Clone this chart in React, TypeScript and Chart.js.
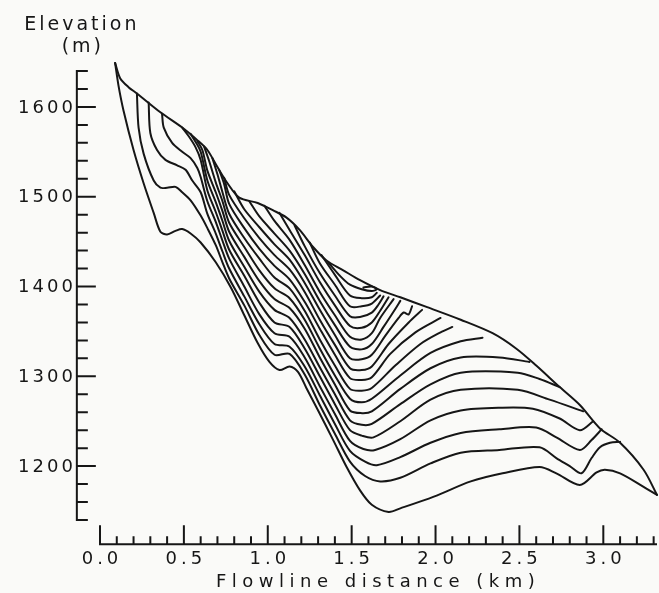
import { useEffect, useRef } from 'react';
import Chart from 'chart.js/auto';

type Pt = [number, number];

// Flowline distance (km), elevation (m)
const SURFACE: Pt[] = [[0.09,1649],[0.12,1632],[0.17,1622],[0.22,1615],[0.36,1594],[0.49,1577],[0.58,1563],[0.64,1552],[0.70,1533],[0.76,1515],[0.83,1499],[0.94,1493],[1.03,1485],[1.11,1477],[1.19,1463],[1.27,1444],[1.35,1429],[1.45,1418],[1.55,1407],[1.67,1396],[1.79,1388],[1.95,1377],[2.15,1363],[2.34,1348],[2.48,1331],[2.60,1312],[2.74,1288],[2.86,1268],[2.98,1242],[3.10,1226],[3.24,1196],[3.32,1168]];
const BED: Pt[] = [[0.09,1649],[0.11,1624],[0.14,1596],[0.20,1552],[0.26,1515],[0.32,1482],[0.36,1461],[0.40,1458],[0.45,1462],[0.49,1464],[0.54,1459],[0.60,1449],[0.69,1427],[0.78,1399],[0.86,1368],[0.94,1337],[1.01,1316],[1.07,1307],[1.13,1311],[1.18,1305],[1.23,1287],[1.30,1262],[1.39,1229],[1.47,1199],[1.55,1173],[1.62,1157],[1.72,1149],[1.79,1153],[1.99,1166],[2.21,1183],[2.40,1192],[2.62,1199],[2.72,1192],[2.86,1179],[2.96,1193],[3.01,1196],[3.10,1192],[3.24,1177],[3.32,1168]];

const LAYER_01: Pt[] = [[0.22,1615],[0.23,1577],[0.26,1548],[0.32,1518],[0.36,1510],[0.40,1510],[0.45,1511],[0.49,1505],[0.54,1496],[0.60,1479],[0.64,1465],[0.69,1446],[0.73,1427],[0.77,1409],[0.86,1379],[0.95,1346],[1.04,1324],[1.13,1325],[1.22,1302],[1.31,1268],[1.40,1236],[1.49,1205],[1.58,1189],[1.67,1183],[1.79,1187],[1.97,1203],[2.15,1215],[2.38,1218],[2.62,1221],[2.72,1209],[2.80,1200],[2.87,1192],[2.93,1209],[2.98,1221],[3.04,1226],[3.10,1227]];
const LAYER_02: Pt[] = [[0.29,1605],[0.30,1571],[0.34,1552],[0.39,1541],[0.46,1535],[0.51,1530],[0.55,1518],[0.60,1505],[0.64,1481],[0.69,1459],[0.73,1439],[0.77,1420],[0.86,1389],[0.95,1358],[1.04,1336],[1.13,1333],[1.22,1311],[1.31,1279],[1.40,1247],[1.49,1217],[1.58,1205],[1.65,1201],[1.79,1210],[1.97,1226],[2.15,1237],[2.38,1241],[2.60,1243],[2.72,1232],[2.86,1218],[2.93,1229],[2.99,1241]];
const LAYER_03: Pt[] = [[0.37,1592],[0.38,1577],[0.43,1560],[0.49,1550],[0.54,1543],[0.58,1532],[0.60,1522],[0.64,1495],[0.69,1472],[0.73,1451],[0.77,1431],[0.86,1400],[0.95,1369],[1.04,1348],[1.13,1344],[1.22,1321],[1.31,1289],[1.40,1258],[1.49,1228],[1.57,1219],[1.64,1218],[1.79,1230],[1.97,1251],[2.15,1262],[2.38,1265],[2.58,1264],[2.74,1253],[2.86,1240],[2.94,1250]];
const LAYER_04: Pt[] = [[0.49,1577],[0.53,1567],[0.57,1555],[0.60,1541],[0.64,1507],[0.69,1483],[0.73,1462],[0.77,1441],[0.86,1412],[0.95,1382],[1.04,1360],[1.13,1355],[1.22,1331],[1.31,1300],[1.40,1269],[1.49,1240],[1.56,1234],[1.63,1232],[1.79,1250],[1.97,1274],[2.15,1285],[2.49,1285],[2.68,1274],[2.88,1261]];
const LAYER_05: Pt[] = [[0.54,1570],[0.57,1561],[0.60,1550],[0.64,1518],[0.69,1494],[0.73,1473],[0.77,1451],[0.86,1422],[0.95,1394],[1.04,1374],[1.13,1365],[1.22,1341],[1.31,1310],[1.40,1280],[1.49,1251],[1.56,1246],[1.62,1247],[1.79,1269],[1.97,1291],[2.15,1304],[2.49,1304],[2.62,1297],[2.74,1288]];
const LAYER_06: Pt[] = [[0.58,1562],[0.61,1552],[0.64,1529],[0.69,1505],[0.73,1484],[0.77,1461],[0.86,1433],[0.95,1406],[1.04,1386],[1.13,1376],[1.22,1353],[1.31,1321],[1.40,1291],[1.49,1262],[1.56,1259],[1.62,1261],[1.79,1286],[1.97,1309],[2.15,1321],[2.38,1321],[2.56,1316]];
const LAYER_07: Pt[] = [[0.62,1556],[0.65,1540],[0.69,1516],[0.73,1495],[0.77,1471],[0.86,1444],[0.95,1418],[1.04,1398],[1.13,1387],[1.22,1363],[1.31,1331],[1.40,1301],[1.49,1275],[1.56,1271],[1.62,1275],[1.79,1301],[1.97,1326],[2.15,1339],[2.28,1343]];
const LAYER_08: Pt[] = [[0.67,1543],[0.70,1525],[0.73,1505],[0.77,1481],[0.86,1454],[0.95,1431],[1.04,1410],[1.13,1398],[1.22,1373],[1.31,1341],[1.40,1312],[1.49,1286],[1.56,1284],[1.62,1287],[1.76,1312],[1.91,1336],[2.03,1349],[2.10,1355]];
const LAYER_09: Pt[] = [[0.71,1530],[0.74,1514],[0.77,1492],[0.86,1465],[0.95,1442],[1.04,1423],[1.13,1408],[1.22,1383],[1.31,1353],[1.40,1324],[1.49,1298],[1.56,1296],[1.62,1299],[1.73,1325],[1.88,1349],[2.03,1365]];
const LAYER_10: Pt[] = [[0.74,1521],[0.77,1502],[0.86,1476],[0.95,1454],[1.04,1435],[1.13,1419],[1.22,1394],[1.31,1363],[1.40,1335],[1.49,1309],[1.56,1307],[1.62,1311],[1.72,1336],[1.84,1360],[1.92,1374]];
const LAYER_11: Pt[] = [[0.80,1506],[0.86,1486],[0.95,1466],[1.04,1447],[1.13,1430],[1.22,1404],[1.31,1374],[1.40,1346],[1.49,1320],[1.56,1319],[1.62,1324],[1.70,1345],[1.78,1365],[1.81,1371],[1.84,1369],[1.86,1378]];
const LAYER_12: Pt[] = [[0.89,1495],[0.95,1478],[1.04,1459],[1.13,1440],[1.22,1414],[1.31,1384],[1.40,1357],[1.49,1333],[1.56,1330],[1.62,1336],[1.69,1355],[1.76,1375],[1.79,1384]];
const LAYER_13: Pt[] = [[0.98,1490],[1.04,1473],[1.13,1452],[1.22,1424],[1.31,1394],[1.40,1368],[1.49,1344],[1.56,1341],[1.62,1348],[1.67,1365],[1.75,1386]];
const LAYER_14: Pt[] = [[1.07,1482],[1.13,1463],[1.22,1435],[1.31,1405],[1.40,1379],[1.49,1356],[1.56,1354],[1.62,1360],[1.67,1373],[1.72,1388]];
const LAYER_15: Pt[] = [[1.16,1468],[1.22,1445],[1.31,1415],[1.40,1390],[1.49,1367],[1.55,1366],[1.62,1371],[1.66,1380],[1.69,1389]];
const LAYER_16: Pt[] = [[1.25,1449],[1.31,1426],[1.40,1402],[1.49,1378],[1.56,1378],[1.62,1381],[1.67,1390]];
const LAYER_17: Pt[] = [[1.32,1435],[1.40,1413],[1.49,1390],[1.56,1387],[1.62,1388],[1.65,1393]];
const LAYER_18: Pt[] = [[1.36,1427],[1.43,1412],[1.49,1402],[1.56,1397],[1.62,1395],[1.65,1397],[1.62,1400],[1.57,1399]];

const LAYERS: Pt[][] = [LAYER_01, LAYER_02, LAYER_03, LAYER_04, LAYER_05, LAYER_06, LAYER_07, LAYER_08, LAYER_09, LAYER_10, LAYER_11, LAYER_12, LAYER_13, LAYER_14, LAYER_15, LAYER_16, LAYER_17, LAYER_18];

const X_MIN = 0;
const X_MAX = 3.32;
const Y_MIN = 1140;
const Y_MAX = 1640;
const Y_TICK_STEP = 20;
const Y_LABELS = [1200, 1300, 1400, 1500, 1600];
const X_TICK_COUNT = 33; // ticks every 0.1 km from 0.0 to 3.3
const X_LABELS = ['0.0', '0.5', '1.0', '1.5', '2.0', '2.5', '3.0'];
const Y_AXIS_AT_KM = -0.138;
const X_AXIS_AT_M = 1113;

const INK = '#161616';
const FONT = '"DejaVu Sans", sans-serif';

const axesPlugin = {
  id: 'glacierAxes',
  afterDraw(chart: any) {
    const { ctx, scales } = chart;
    const xs = scales.x;
    const ys = scales.y;
    ctx.save();
    ctx.strokeStyle = INK;
    ctx.fillStyle = INK;
    ctx.lineWidth = 2;
    ctx.lineCap = 'butt';

    // y axis
    const ax = xs.getPixelForValue(Y_AXIS_AT_KM);
    const yTop = ys.getPixelForValue(Y_MAX);
    const yBot = ys.getPixelForValue(Y_MIN);
    ctx.beginPath();
    ctx.moveTo(ax, yTop - 1);
    ctx.lineTo(ax, yBot + 1);
    for (let v = Y_MIN; v <= Y_MAX; v += Y_TICK_STEP) {
      const py = ys.getPixelForValue(v);
      const major = v % 100 === 0;
      ctx.moveTo(ax, py);
      ctx.lineTo(ax + (major ? 19 : 11), py);
    }
    ctx.stroke();

    ctx.font = `18px ${FONT}`;
    (ctx as any).letterSpacing = '3px';
    ctx.textAlign = 'right';
    ctx.textBaseline = 'middle';
    for (const v of Y_LABELS) {
      ctx.fillText(String(v), ax - 1, ys.getPixelForValue(v) + 1);
    }

    // x axis
    const ay = ys.getPixelForValue(X_AXIS_AT_M);
    ctx.beginPath();
    ctx.moveTo(xs.getPixelForValue(X_MIN) - 1, ay);
    ctx.lineTo(xs.getPixelForValue(X_MAX), ay);
    for (let i = 0; i <= X_TICK_COUNT; i++) {
      const px = xs.getPixelForValue(i / 10);
      const major = i % 5 === 0;
      ctx.moveTo(px, ay);
      ctx.lineTo(px, ay - (major ? 19 : 8));
    }
    ctx.stroke();

    (ctx as any).letterSpacing = '4px';
    ctx.textAlign = 'center';
    for (const lab of X_LABELS) {
      ctx.fillText(lab, xs.getPixelForValue(parseFloat(lab)) + 2, ay + 15);
    }

    // titles
    (ctx as any).letterSpacing = '5.5px';
    ctx.fillText('Flowline distance (km)', xs.getPixelForValue(1.64) + 3, ay + 38);
    ctx.font = `19px ${FONT}`;
    (ctx as any).letterSpacing = '3px';
    ctx.fillText('Elevation', ax + 5, 25);
    ctx.fillText('(m)', ax + 6, 47);
    ctx.restore();
  },
};

export default function App() {
  const ref = useRef<HTMLCanvasElement | null>(null);
  useEffect(() => {
    if (!ref.current) return;
    const toXY = (arr: Pt[]) => arr.map(([x, y]) => ({ x, y }));
    const lines = [SURFACE, BED, ...LAYERS];
    const chart = new Chart(ref.current, {
      type: 'line',
      data: {
        datasets: lines.map((arr, i) => ({
          label: i === 0 ? 'Surface' : i === 1 ? 'Bed' : `Layer ${i - 1}`,
          data: toXY(arr),
          borderColor: INK,
          borderWidth: 2,
          pointRadius: 0,
          tension: 0.3,
          fill: false,
          clip: false as any,
          borderCapStyle: 'round' as const,
          borderJoinStyle: 'round' as const,
        })),
      },
      options: {
        animation: false,
        responsive: false,
        devicePixelRatio: 1,
        events: [],
        layout: { padding: { left: 100, right: 2, top: 71, bottom: 73 } },
        plugins: { legend: { display: false }, tooltip: { enabled: false } },
        scales: {
          x: { type: 'linear', min: X_MIN, max: X_MAX, display: false },
          y: { type: 'linear', min: Y_MIN, max: Y_MAX, display: false },
        },
      },
      plugins: [axesPlugin],
    });
    return () => chart.destroy();
  }, []);
  return (
    <div style={{ position: 'fixed', left: 0, top: 0, width: 659, height: 593, background: '#fafaf8' }}>
      <canvas ref={ref} width={659} height={593} style={{ display: 'block' }} />
    </div>
  );
}
